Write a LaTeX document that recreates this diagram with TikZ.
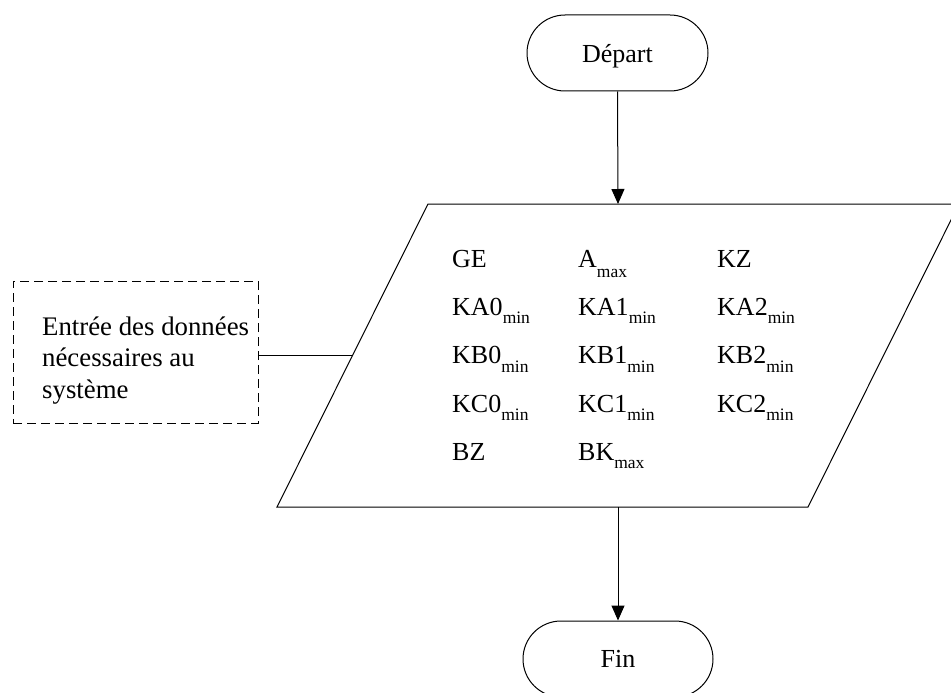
\documentclass[tikz,border=0pt]{standalone}
\usepackage{fontspec}
\setmainfont{Liberation Serif}
\usetikzlibrary{arrows.meta}
\newcommand\lowsub[2][8.5pt]{\raisebox{-#1}{\fontsize{17.5}{17.5}\selectfont #2}}
\tikzset{
  line/.style={line width=1pt, draw=black},
  arr/.style={line, -{Triangle[length=15pt,width=13pt]}},
  term/.style={line, rounded corners=38pt, minimum height=76pt, inner sep=0pt, text depth=0pt, font=\fontsize{26}{26}\selectfont},
  dashbox/.style={line, dash pattern=on 9pt off 5pt, inner sep=0pt},
  cell/.style={anchor=base west, inner sep=0pt, font=\fontsize{26}{26}\selectfont},
  note/.style={anchor=base west, inner sep=0pt, align=left, font=\fontsize{26.8}{31.7}\selectfont}
}
\begin{document}
\begin{tikzpicture}[x=1pt,y=-1pt]
\useasboundingbox (0,0) rectangle (951,693);
\clip (0,0) rectangle (951,693);
% terminals
\node[term, draw, minimum width=181pt] (start) at (617.5,53) {Départ};
\node[term, draw, minimum width=190pt] (fin) at (618,659) {Fin};
% data parallelogram
\coordinate (tl) at (428,204);
\coordinate (tr) at (959,204);
\coordinate (br) at (808,507);
\coordinate (bl) at (277,507);
\draw[line] (tl) -- (tr) -- (br) -- (bl) -- cycle;
\coordinate (ptop) at (618,204);
\coordinate (pbot) at (618,507);
\coordinate (pleft) at (352.8,355);
% arrows
\draw[arr] (start.south) -- (ptop);
\draw[arr] (pbot) -- (fin.north);
% data items
\node[cell] (ge)   at (452,267)   {GE};
\node[cell] (amax) at (578,267)   {A\lowsub[10pt]{max}};
\node[cell] (kz)   at (717,267)   {KZ};
\node[cell] (ka0)  at (452,315.3) {KA0\lowsub{min}};
\node[cell] (ka1)  at (578,315.3) {KA1\lowsub{min}};
\node[cell] (ka2)  at (717,315.3) {KA2\lowsub{min}};
\node[cell] (kb0)  at (452,363.6) {KB0\lowsub{min}};
\node[cell] (kb1)  at (578,363.6) {KB1\lowsub{min}};
\node[cell] (kb2)  at (717,363.6) {KB2\lowsub{min}};
\node[cell] (kc0)  at (452,412)   {KC0\lowsub{min}};
\node[cell] (kc1)  at (578,412)   {KC1\lowsub{min}};
\node[cell] (kc2)  at (717,412)   {KC2\lowsub{min}};
\node[cell] (bz)   at (452,460)   {BZ};
\node[cell] (bk)   at (578,460)   {BK\lowsub{max}};
% annotation
\node[dashbox, draw, minimum width=245pt, minimum height=142pt] (inbox) at (135.5,352) {};
\node[note] (intext) at (42,398.5) {Entrée des données\\nécessaires au\\système};
\draw[line] (inbox.east |- pleft) -- (pleft);
\end{tikzpicture}
\end{document}
